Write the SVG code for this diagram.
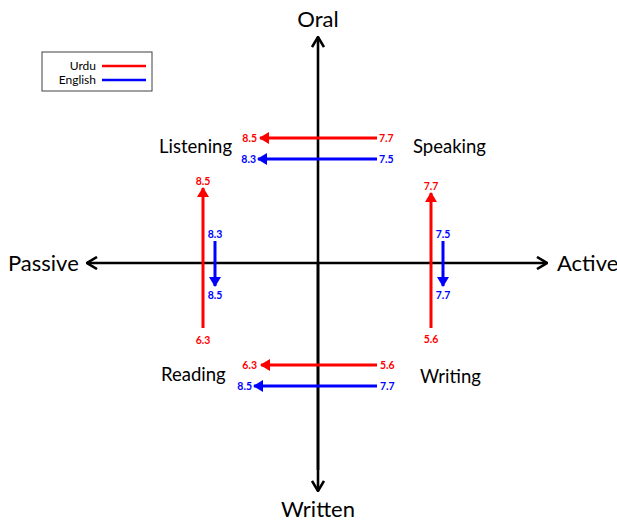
<svg xmlns="http://www.w3.org/2000/svg" width="617" height="523" viewBox="0 0 617 523">
<defs>
<marker id="open" viewBox="0 0 12 14" refX="11" refY="7" markerWidth="12" markerHeight="14" markerUnits="userSpaceOnUse" orient="auto">
<path d="M1,1 L11,7 L1,13" fill="none" stroke="#000" stroke-width="2.6"/>
</marker>
<marker id="red" viewBox="0 0 10 12" refX="9" refY="6" markerWidth="10" markerHeight="12" markerUnits="userSpaceOnUse" orient="auto">
<path d="M0,0 L10,6 L0,12 Z" fill="#ff0000"/>
</marker>
<marker id="blue" viewBox="0 0 10 12" refX="9" refY="6" markerWidth="10" markerHeight="12" markerUnits="userSpaceOnUse" orient="auto">
<path d="M0,0 L10,6 L0,12 Z" fill="#0000ff"/>
</marker>
</defs>
<style>
text{font-family:Lato,"Open Sans","Liberation Sans",sans-serif;fill:#000}
.big{font-size:22px}
.mid{font-size:18.5px}
.leg{font-size:12px}
.r{fill:#ff0000;font-size:10.5px;font-weight:bold}
.b{fill:#0000ff;font-size:10.5px;font-weight:bold}
.axis{stroke:#000;stroke-width:2.6;fill:none}
.ra{stroke:#ff0000;stroke-width:3;fill:none}
.ba{stroke:#0000ff;stroke-width:3;fill:none}
</style>
<rect width="617" height="523" fill="#fff"/>
<g id="legend">
<rect x="42" y="52" width="110" height="39" fill="#fff" stroke="#404040" stroke-width="1"/>
<text class="leg" x="96" y="69.5" text-anchor="end">Urdu</text>
<line x1="102" y1="66" x2="146" y2="66" stroke="#ff0000" stroke-width="2.5"/>
<text class="leg" x="96" y="84" text-anchor="end">English</text>
<line x1="102" y1="80" x2="146" y2="80" stroke="#0000ff" stroke-width="2.5"/>
</g>
<g id="connectors">
<line class="axis" x1="318" y1="470" x2="318" y2="37" marker-end="url(#open)"/>
<line class="axis" x1="318" y1="263" x2="318" y2="491" marker-end="url(#open)"/>
<line class="axis" x1="318" y1="263" x2="87" y2="263" marker-end="url(#open)"/>
<line class="axis" x1="318" y1="263" x2="547" y2="263" marker-end="url(#open)"/>
<line class="ra" x1="377" y1="138" x2="260" y2="138" marker-end="url(#red)"/>
<line class="ba" x1="377" y1="159" x2="258" y2="159" marker-end="url(#blue)"/>
<line class="ra" x1="377" y1="365" x2="261" y2="365" marker-end="url(#red)"/>
<line class="ba" x1="377" y1="386" x2="254" y2="386" marker-end="url(#blue)"/>
<line class="ra" x1="203" y1="328" x2="203" y2="188" marker-end="url(#red)"/>
<line class="ba" x1="215" y1="241" x2="215" y2="286" marker-end="url(#blue)"/>
<line class="ra" x1="431" y1="328" x2="431" y2="193" marker-end="url(#red)"/>
<line class="ba" x1="443" y1="241" x2="443" y2="286" marker-end="url(#blue)"/>
</g>
<g id="axis-labels">
<text class="big" x="318" y="27" text-anchor="middle">Oral</text>
<text class="big" x="318" y="517" text-anchor="middle">Written</text>
<text class="big" x="8" y="271">Passive</text>
<text class="big" x="557" y="271">Active</text>
</g>
<g id="listening">
<text class="mid" x="159" y="153">Listening</text>
<text class="r" x="257" y="142" text-anchor="end">8.5</text>
<text class="b" x="256" y="163" text-anchor="end">8.3</text>
<text class="r" x="203" y="185" text-anchor="middle">8.5</text>
<text class="r" x="203" y="344" text-anchor="middle">6.3</text>
<text class="b" x="215" y="238" text-anchor="middle">8.3</text>
<text class="b" x="215" y="299" text-anchor="middle">8.5</text>
</g>
<g id="speaking">
<text class="mid" x="413" y="153">Speaking</text>
<text class="r" x="379" y="142">7.7</text>
<text class="b" x="379" y="163">7.5</text>
<text class="r" x="431" y="190" text-anchor="middle">7.7</text>
<text class="r" x="431" y="343" text-anchor="middle">5.6</text>
<text class="b" x="443" y="238" text-anchor="middle">7.5</text>
<text class="b" x="443" y="299" text-anchor="middle">7.7</text>
</g>
<g id="reading">
<text class="mid" x="161" y="381">Reading</text>
<text class="r" x="257" y="369" text-anchor="end">6.3</text>
<text class="b" x="252" y="390" text-anchor="end">8.5</text>
</g>
<g id="writing">
<text class="mid" x="420" y="383">Writing</text>
<text class="r" x="380" y="369">5.6</text>
<text class="b" x="380" y="390">7.7</text>
</g>
</svg>
